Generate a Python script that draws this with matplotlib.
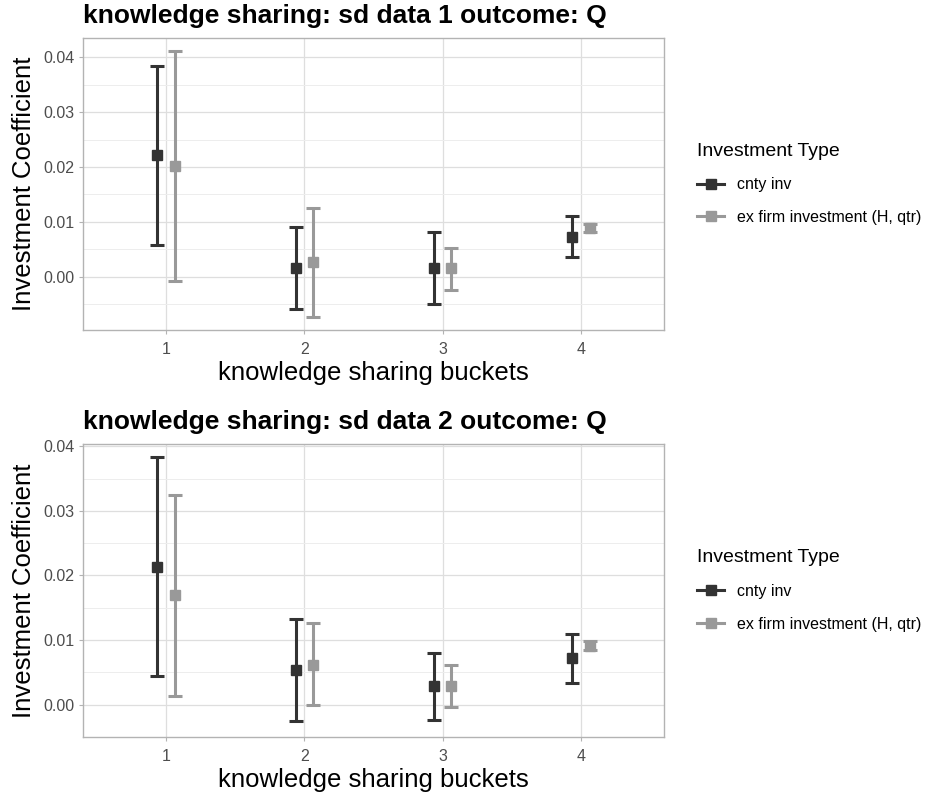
import matplotlib
matplotlib.use("Agg")
import matplotlib.pyplot as plt
from matplotlib.lines import Line2D
import numpy as np

plt.rcParams['font.family'] = ['Liberation Sans', 'DejaVu Sans']

# buckets on the x axis
buckets = [1, 2, 3, 4]
series_names = ["cnty inv", "ex firm investment (H, qtr)"]
series_colors = ["#333333", "#999999"]

# sd data 1: estimates with lower / upper bounds
p1_cnty_est = [0.0221, 0.0016, 0.0016, 0.0072]
p1_cnty_lo = [0.0058, -0.0058, -0.0050, 0.0035]
p1_cnty_hi = [0.0385, 0.0090, 0.0082, 0.0110]
p1_firm_est = [0.0202, 0.0026, 0.0015, 0.0089]
p1_firm_lo = [-0.0007, -0.0073, -0.0025, 0.0082]
p1_firm_hi = [0.0411, 0.0126, 0.0053, 0.0096]

# sd data 2
p2_cnty_est = [0.0213, 0.0053, 0.0029, 0.0073]
p2_cnty_lo = [0.0045, -0.0026, -0.0024, 0.0034]
p2_cnty_hi = [0.0383, 0.0132, 0.0080, 0.0110]
p2_firm_est = [0.0169, 0.0062, 0.0029, 0.0091]
p2_firm_lo = [0.0014, -0.0001, -0.0004, 0.0084]
p2_firm_hi = [0.0324, 0.0126, 0.0061, 0.0098]

panels = [
    ("knowledge sharing: sd data 1 outcome: Q",
     [(p1_cnty_est, p1_cnty_lo, p1_cnty_hi), (p1_firm_est, p1_firm_lo, p1_firm_hi)]),
    ("knowledge sharing: sd data 2 outcome: Q",
     [(p2_cnty_est, p2_cnty_lo, p2_cnty_hi), (p2_firm_est, p2_firm_lo, p2_firm_hi)]),
]

W, H = 925, 796
fig = plt.figure(figsize=(W / 100, H / 100), dpi=100)

# axes boxes in pixels: left, top, right, bottom
boxes = [(83, 38, 664, 330), (83, 444, 664, 737)]
dodge = [-0.0625, 0.0625]
border = "#B3B3B3"

for (title, series), (l, t, r, b) in zip(panels, boxes):
    ax = fig.add_axes([l / W, 1 - b / H, (r - l) / W, (b - t) / H])
    allv = []
    for (est, lo, hi), col, dx in zip(series, series_colors, dodge):
        x = np.array(buckets) + dx
        est, lo, hi = np.array(est), np.array(lo), np.array(hi)
        ax.errorbar(x, est, yerr=[est - lo, hi - est], fmt='s', color=col,
                    ms=7, elinewidth=2.2, capsize=4.8, capthick=2.2, zorder=3)
        allv += list(lo) + list(hi)
    lo_all, hi_all = min(allv), max(allv)
    pad = 0.05 * (hi_all - lo_all)
    ax.set_ylim(lo_all - pad, hi_all + pad)
    ax.set_xlim(0.4, 4.6)

    ax.set_xticks(buckets)
    ax.set_yticks([0.0, 0.01, 0.02, 0.03, 0.04])
    ax.set_yticks(np.arange(-0.005, 0.045, 0.01), minor=True)
    ax.set_yticklabels(["0.00", "0.01", "0.02", "0.03", "0.04"])
    ax.grid(True, which='major', color="#DEDEDE", lw=0.9, zorder=0)
    ax.grid(True, which='minor', axis='y', color="#EDEDED", lw=0.7, zorder=0)
    ax.set_axisbelow(True)
    for s in ax.spines.values():
        s.set_color(border)
        s.set_linewidth(1.0)
    ax.tick_params(which='major', length=3, width=0.8, color=border,
                   labelsize=11.5, labelcolor="#4D4D4D", pad=3)
    ax.tick_params(axis='x', which='major', pad=5.5)
    ax.tick_params(which='minor', length=0)

    ax.set_xlabel("knowledge sharing buckets", fontsize=18.5, labelpad=3)
    ax.set_ylabel("Investment Coefficient", fontsize=18.5, labelpad=5)
    ax.set_title(title, loc='left', fontsize=19, fontweight='bold', pad=11)

    handles = [Line2D([], [], color=c, lw=2.2, marker='s', ms=7) for c in series_colors]
    leg = ax.legend(handles, series_names, title="Investment Type", loc='center left',
                    bbox_to_anchor=(1.057, 0.5), frameon=False, borderaxespad=0,
                    borderpad=0, fontsize=11.5, title_fontsize=14, handlelength=1.7,
                    handletextpad=0.8, labelspacing=1.1, alignment='left')
    leg.get_title().set_color("black")

fig.savefig("out.png", dpi=100)
